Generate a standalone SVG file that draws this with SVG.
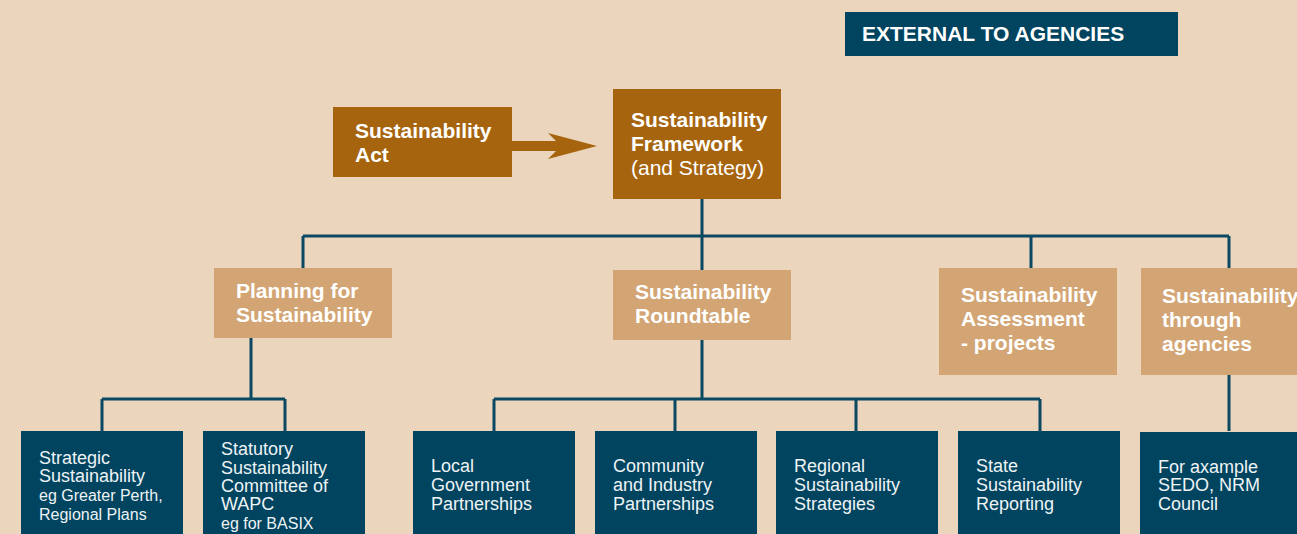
<svg xmlns="http://www.w3.org/2000/svg" width="1297" height="534" viewBox="0 0 1297 534">
<style>
.bg{fill:#EBD5BC}
.brown{fill:#A6640E}
.tan{fill:#D3A574}
.dark{fill:#00445F}
.h{font-family:"Liberation Sans",Arial,sans-serif;font-size:21px;font-weight:bold;fill:#FFFFFF}
.hr{font-family:"Liberation Sans",Arial,sans-serif;font-size:21px;font-weight:normal;fill:#FFFFFF}
.b{font-family:"Liberation Sans",Arial,sans-serif;font-size:18px;fill:#EEF3F5}
.s{font-size:16px}
.conn{fill:none;stroke:#0B4862;stroke-width:3}
</style>
<rect class="bg" x="0" y="0" width="1297" height="534"/>
<g id="external">
<rect class="dark" x="845" y="12" width="333" height="44"/>
<text class="h" x="862" y="41">EXTERNAL TO AGENCIES</text>
</g>
<g id="act">
<rect class="brown" x="333" y="107" width="179" height="70"/>
<text class="h" x="355" y="138">Sustainability</text>
<text class="h" x="355" y="162">Act</text>
</g>
<g id="act-arrow">
<polygon class="brown" points="512,141 556,141 548,133 597,146 548,159 556,151 512,151"/>
</g>
<g id="framework">
<rect class="brown" x="613" y="89" width="168" height="110"/>
<text class="h" x="631" y="127">Sustainability</text>
<text class="h" x="631" y="151">Framework</text>
<text class="hr" x="631" y="175">(and Strategy)</text>
</g>
<g id="connectors">
<path class="conn" d="M702,199 V236 M303,236 H1229 M303,236 V268 M702,236 V270 M1031,236 V268 M1229,236 V268"/>
<path class="conn" d="M251,338 V399 M102,399 H285 M102,399 V431 M285,399 V431"/>
<path class="conn" d="M702,340 V399 M494,399 H1040 M494,399 V431 M675,399 V431 M856,399 V431 M1040,399 V431"/>
<path class="conn" d="M1229,375 V431"/>
</g>
<g id="planning">
<rect class="tan" x="214" y="268" width="178" height="70"/>
<text class="h" x="236" y="298">Planning for</text>
<text class="h" x="236" y="322">Sustainability</text>
</g>
<g id="roundtable">
<rect class="tan" x="613" y="270" width="178" height="70"/>
<text class="h" x="635" y="299">Sustainability</text>
<text class="h" x="635" y="323">Roundtable</text>
</g>
<g id="assessment">
<rect class="tan" x="939" y="268" width="178" height="107"/>
<text class="h" x="961" y="302">Sustainability</text>
<text class="h" x="961" y="326">Assessment</text>
<text class="h" x="961" y="350">- projects</text>
</g>
<g id="agencies">
<rect class="tan" x="1141" y="268" width="170" height="107"/>
<text class="h" x="1162" y="303">Sustainability</text>
<text class="h" x="1162" y="327">through</text>
<text class="h" x="1162" y="351">agencies</text>
</g>
<g id="strategic">
<rect class="dark" x="21" y="431" width="162" height="110"/>
<text class="b" x="39" y="464">Strategic</text>
<text class="b" x="39" y="482">Sustainability</text>
<text class="b s" x="39" y="501">eg Greater Perth,</text>
<text class="b s" x="39" y="520">Regional Plans</text>
</g>
<g id="statutory">
<rect class="dark" x="203" y="431" width="162" height="110"/>
<text class="b" x="221" y="455">Statutory</text>
<text class="b" x="221" y="474">Sustainability</text>
<text class="b" x="221" y="492">Committee of</text>
<text class="b" x="221" y="510">WAPC</text>
<text class="b s" x="221" y="529">eg for BASIX</text>
</g>
<g id="local">
<rect class="dark" x="413" y="431" width="162" height="110"/>
<text class="b" x="431" y="472">Local</text>
<text class="b" x="431" y="491">Government</text>
<text class="b" x="431" y="510">Partnerships</text>
</g>
<g id="community">
<rect class="dark" x="595" y="431" width="162" height="110"/>
<text class="b" x="613" y="472">Community</text>
<text class="b" x="613" y="491">and Industry</text>
<text class="b" x="613" y="510">Partnerships</text>
</g>
<g id="regional">
<rect class="dark" x="776" y="431" width="162" height="110"/>
<text class="b" x="794" y="472">Regional</text>
<text class="b" x="794" y="491">Sustainability</text>
<text class="b" x="794" y="510">Strategies</text>
</g>
<g id="state">
<rect class="dark" x="958" y="431" width="162" height="110"/>
<text class="b" x="976" y="472">State</text>
<text class="b" x="976" y="491">Sustainability</text>
<text class="b" x="976" y="510">Reporting</text>
</g>
<g id="example">
<rect class="dark" x="1140" y="432" width="170" height="110"/>
<text class="b" x="1158" y="473">For axample</text>
<text class="b" x="1158" y="491">SEDO, NRM</text>
<text class="b" x="1158" y="510">Council</text>
</g>
</svg>
